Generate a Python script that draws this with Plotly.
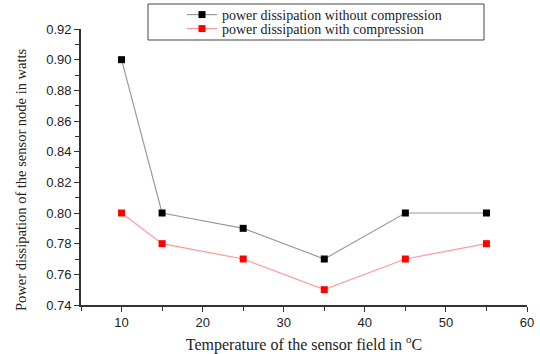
import plotly.graph_objects as go

# Sensor field temperature (°C) and node power dissipation (W)
temperature = [10, 15, 25, 35, 45, 55]
power_without = [0.90, 0.80, 0.79, 0.77, 0.80, 0.80]
power_with = [0.80, 0.78, 0.77, 0.75, 0.77, 0.78]

series_names = [
    "power dissipation without compression",
    "power dissipation with compression",
]

serif = "Liberation Serif, Times New Roman, serif"
sans = "Liberation Sans, Arial, sans-serif"

fig = go.Figure()
fig.add_trace(go.Scatter(
    x=temperature, y=power_without, name=series_names[0],
    mode="lines+markers", legend="legend",
    line=dict(color="#9a9a9a", width=1.2),
    marker=dict(symbol="square", size=7, color="black"),
))
fig.add_trace(go.Scatter(
    x=temperature, y=power_with, name=series_names[1],
    mode="lines+markers", legend="legend2",
    line=dict(color="#ff9a9a", width=1.2),
    marker=dict(symbol="square", size=7, color="#ff0000"),
))

L, R, T, B = 81, 13, 29, 49
W, H = 540, 354
pw, ph = W - L - R, H - T - B

def px_to_paper_x(px):
    return (px - L) / pw

def px_to_paper_y(py):
    return (H - B - py) / ph

# Legend frame
fig.add_shape(
    type="rect", xref="paper", yref="paper",
    x0=px_to_paper_x(148), x1=px_to_paper_x(484),
    y0=px_to_paper_y(40), y1=px_to_paper_y(4),
    line=dict(color="#444", width=1), fillcolor="white", layer="below",
)

legend_common = dict(
    xanchor="left", yanchor="middle",
    bgcolor="rgba(0,0,0,0)", borderwidth=0,
    font=dict(family=serif, size=14, color="#222"),
    itemwidth=30,
)

axis_common = dict(
    showline=True, linecolor="#333", linewidth=1.6,
    ticks="outside", ticklen=5, tickwidth=1.4, tickcolor="#333",
    showgrid=False, zeroline=False, mirror=False, automargin=False,
    tickfont=dict(family=sans, size=13, color="#222"),
)

fig.update_layout(
    width=W, height=H,
    margin=dict(l=L, r=R, t=T, b=B, autoexpand=False),
    paper_bgcolor="white", plot_bgcolor="white",
    showlegend=True,
    legend=dict(x=px_to_paper_x(182), y=px_to_paper_y(15), **legend_common),
    legend2=dict(x=px_to_paper_x(182), y=px_to_paper_y(29), **legend_common),
    xaxis=dict(
        range=[5, 60], tickvals=[10, 20, 30, 40, 50, 60],
        minor=dict(ticks="outside", ticklen=4, tickwidth=1.2,
                   tickcolor="#333", dtick=5, tick0=5),
        title=dict(text="Temperature of the sensor field in <sup>o</sup>C",
                   font=dict(family=serif, size=16, color="#222"),
                   standoff=13),
        **axis_common,
    ),
    yaxis=dict(
        range=[0.74, 0.92], dtick=0.02, tick0=0.74, tickformat=".2f",
        minor=dict(ticks="outside", ticklen=4, tickwidth=1.2,
                   tickcolor="#333", dtick=0.01),
        **axis_common,
    ),
    annotations=[dict(
        text="Power dissipation of the sensor node in watts",
        textangle=-90, showarrow=False,
        xref="paper", yref="paper",
        x=px_to_paper_x(21), y=px_to_paper_y(180),
        xanchor="center", yanchor="middle",
        font=dict(family=serif, size=14.5, color="#222"),
    )],
)

fig.write_html("out.html")
